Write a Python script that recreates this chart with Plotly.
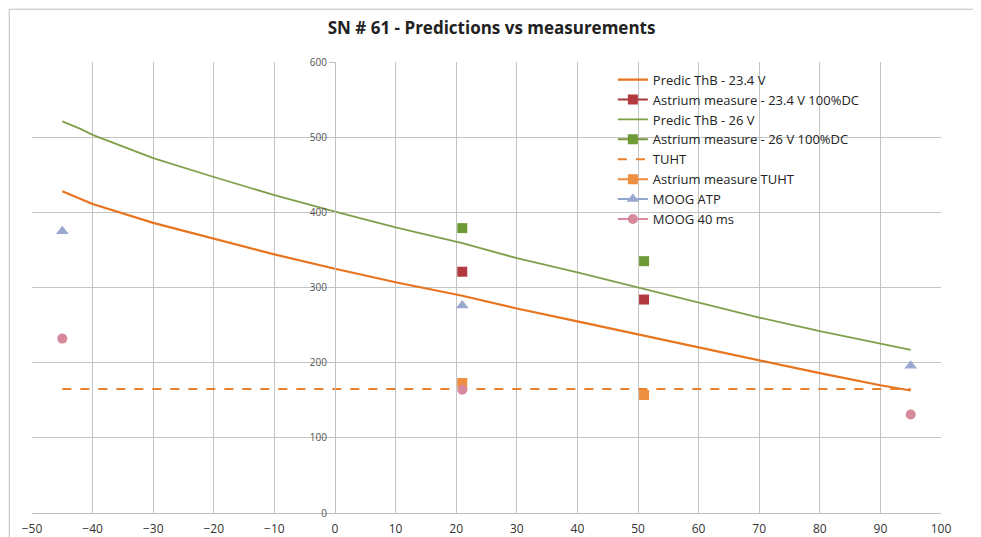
import plotly.graph_objects as go

# prediction curves (temperature in degC)
pred_temp = [-45, -42, -40, -30, -20, -10, 0, 10, 21, 30, 40, 51, 60, 70, 80, 90, 95]
pred_234 = [428, 418, 411, 386, 365, 344, 325, 307, 289, 272, 255, 236, 220, 203, 186, 170, 163]
pred_26 = [521, 511, 503, 472, 447, 423, 401, 380, 359, 339, 320, 298, 280, 260, 242, 225, 217]

# measurements
meas_temp = [21, 51]
astrium_234 = [321, 284]
astrium_26 = [379, 335]
astrium_tuht = [173, 157]

tuht_temp = [-45, 95]
tuht = [165, 165]

moog_temp = [-45, 21, 95]
moog_atp = [375, 276, 196]
moog_40ms = [232, 164, 131]


def gapped(vals):
    # separate points with None so the legend shows line + marker but no line is drawn
    out = []
    for v in vals:
        out += [v, None]
    return out[:-1]


fig = go.Figure()
fig.add_trace(go.Scatter(x=pred_temp, y=pred_234, mode="lines", name="Predic ThB - 23.4 V",
                         line=dict(color="#E8741E", width=2.2)))
fig.add_trace(go.Scatter(x=gapped(meas_temp), y=gapped(astrium_234), mode="lines+markers",
                         name="Astrium measure - 23.4 V 100%DC", connectgaps=False,
                         line=dict(color="#A8393A", width=2),
                         marker=dict(symbol="square", size=10, color="#B23A3E")))
fig.add_trace(go.Scatter(x=pred_temp, y=pred_26, mode="lines", name="Predic ThB - 26 V",
                         line=dict(color="#7FA04A", width=1.8)))
fig.add_trace(go.Scatter(x=gapped(meas_temp), y=gapped(astrium_26), mode="lines+markers",
                         name="Astrium measure - 26 V 100%DC", connectgaps=False,
                         line=dict(color="#77933C", width=2),
                         marker=dict(symbol="square", size=10, color="#6E9A35")))
fig.add_trace(go.Scatter(x=tuht_temp, y=tuht, mode="lines", name="TUHT",
                         line=dict(color="#E8802E", width=2, dash="dash")))
fig.add_trace(go.Scatter(x=gapped(meas_temp), y=gapped(astrium_tuht), mode="lines+markers",
                         name="Astrium measure TUHT", connectgaps=False,
                         line=dict(color="#EC8A3E", width=2),
                         marker=dict(symbol="square", size=10, color="#EE8E40")))
fig.add_trace(go.Scatter(x=gapped(moog_temp), y=gapped(moog_atp), mode="lines+markers",
                         name="MOOG ATP", connectgaps=False,
                         line=dict(color="#8FA6CC", width=2),
                         marker=dict(symbol="triangle-up", size=11, color="#9AA8CF")))
fig.add_trace(go.Scatter(x=gapped(moog_temp), y=gapped(moog_40ms), mode="lines+markers",
                         name="MOOG 40 ms", connectgaps=False,
                         line=dict(color="#D98A9A", width=2),
                         marker=dict(symbol="circle", size=10, color="#D6899A")))

fig.update_layout(
    width=973, height=529,
    margin=dict(l=24, r=40, t=54, b=24),
    paper_bgcolor="white", plot_bgcolor="white",
    font=dict(family="Open Sans, Lato, sans-serif", color="#404040"),
    title=dict(text="<b>SN # 61 - Predictions vs measurements</b>", x=0.497, xanchor="center",
               y=0.962, yanchor="middle", font=dict(size=17, color="#222222")),
    legend=dict(x=0.639, y=0.994, xanchor="left", yanchor="top", bgcolor="rgba(0,0,0,0)",
                font=dict(size=13, color="#222222"), itemwidth=30, tracegroupgap=0),
    xaxis=dict(range=[-50, 100], dtick=10, showgrid=True, gridcolor="#C4C4C4", gridwidth=1,
               zeroline=False, showline=True, linecolor="#BFBFBF", ticks="", automargin=False,
               ticklabelstandoff=5, tickfont=dict(size=12, color="#333333")),
    yaxis=dict(range=[0, 600], dtick=100, showgrid=True, gridcolor="#C4C4C4", gridwidth=1,
               zeroline=False, showline=True, linecolor="#BFBFBF", anchor="free", position=1 / 3,
               ticks="outside", ticklen=6, tickcolor="#BFBFBF", automargin=False,
               tickfont=dict(size=10, color="#555555")),
    shapes=[dict(type="rect", xref="paper", yref="paper", x0=-0.025, x1=1.2, y0=-0.2, y1=1.117,
                 line=dict(color="#BFBFBF", width=1), layer="below")],
)

fig.write_html("out.html")
